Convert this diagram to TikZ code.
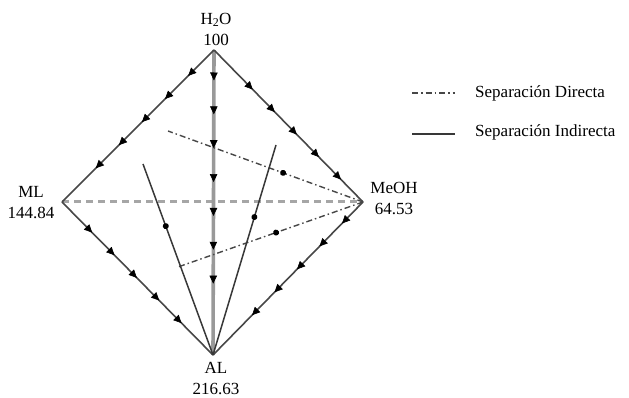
\documentclass[tikz,border=0pt]{standalone}
\usepackage{fontspec}
\setmainfont{Liberation Serif}
\usetikzlibrary{arrows.meta,decorations.markings}
\begin{document}
\begin{tikzpicture}[x=1pt,y=-1pt,
  lbl/.style={font=\fontsize{17}{21}\selectfont, align=center, inner sep=0pt},
  edge/.style={draw=black!72, line width=1.6pt},
  sep/.style={draw=black!78, line width=1.5pt},
  dd/.style={draw=black!72, line width=1.4pt, dash pattern=on 6pt off 3pt on 1.5pt off 3pt},
  dsh/.style={draw=black!35, line width=3pt, dash pattern=on 7pt off 5pt},
  vert/.style={draw=black!40, line width=3.6pt},
  arrs/.style args={#1:#2:#3}{postaction={decorate}, decoration={markings,
     mark=between positions #1 and #2 step #3 with {\arrow[black,fill=black,line width=0.6pt]{Triangle[length=8pt,width=7.5pt]}}}},
  dotat/.style={postaction={decorate}, decoration={markings,
     mark=at position #1 with {\fill[black] (0,0) circle (3pt);}}}
]
\useasboundingbox (0,0) rectangle (629,398);
% vertices
\coordinate (H) at (214,50);
\coordinate (ML) at (62,202);
\coordinate (Me) at (363,202);
\coordinate (AL) at (213,355);
% interior end points
\coordinate (U) at (168,131);
\coordinate (Lw) at (178,267);
\coordinate (SL) at (143,164);
\coordinate (SR) at (276,145);
% legend points
\coordinate (ld1) at (412,93);
\coordinate (ld2) at (455,93);
\coordinate (ls1) at (412,134);
\coordinate (ls2) at (455,134);

% dashed ML - MeOH
\draw[dsh] (ML) -- (Me);
% vertical
\draw[vert, arrs=0.1:0.77:0.111] (H) -- (AL);
% edges
\draw[edge, arrs=0.17:0.79:0.152] (H) -- (ML);
\draw[edge, arrs=0.26:0.86:0.148] (H) -- (Me);
\draw[edge, arrs=0.2:0.8:0.148] (ML) -- (AL);
\draw[edge, arrs=0.14:0.75:0.15] (Me) -- (AL);
% direct separation (dash-dot)
\draw[dd, dotat=0.41] (Me) -- (U);
\draw[dd, dotat=0.47] (Me) -- (Lw);
% indirect separation (solid)
\draw[sep, dotat=0.675] (AL) -- (SL);
\draw[sep, dotat=0.657] (AL) -- (SR);

% labels
\node[lbl] (tH) at (216,29) {H\textsubscript{2}O\\100};
\node[lbl] (tML) at (31,203) {ML\\144.84};
\node[lbl] (tMe) at (394,198) {MeOH\\64.53};
\node[lbl] (tAL) at (216,379) {AL\\216.63};

% legend
\draw[dd] (ld1) -- (ld2);
\draw[sep, line width=2pt] (ls1) -- (ls2);
\node[lbl, anchor=west] (t1) at (475,93) {Separación Directa};
\node[lbl, anchor=west] (t2) at (475,132) {Separación Indirecta};
\end{tikzpicture}
\end{document}
